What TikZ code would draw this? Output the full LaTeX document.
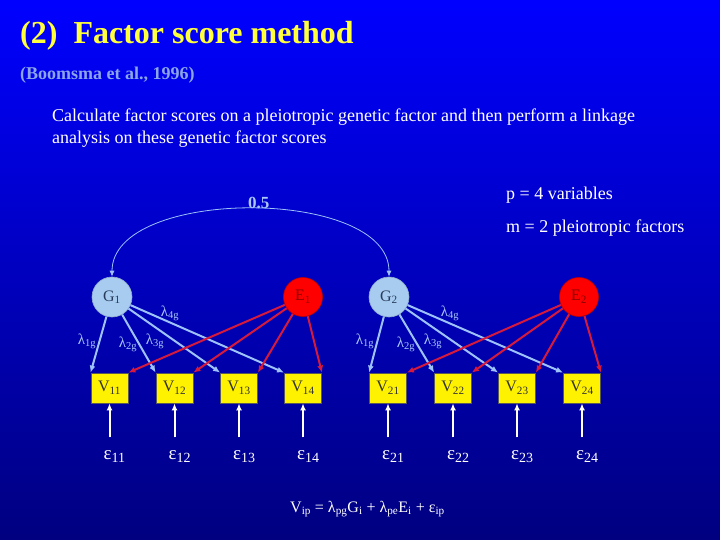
\documentclass[tikz,border=0pt]{standalone}
\usepackage{fontspec}
\setmainfont{Liberation Serif}
\usetikzlibrary{arrows.meta,calc}
\definecolor{bgtop}{RGB}{0,0,255}
\definecolor{bgmid}{RGB}{0,0,205}
\definecolor{bgbot}{RGB}{0,0,128}
\definecolor{gfill}{RGB}{168,204,240}
\definecolor{gline}{RGB}{158,194,250}
\definecolor{eline}{RGB}{215,25,60}
\definecolor{titley}{RGB}{255,255,60}
\definecolor{citec}{RGB}{140,165,230}
\definecolor{lblc}{RGB}{170,200,250}
\definecolor{gtext}{RGB}{40,60,90}
\definecolor{etext}{RGB}{130,0,0}
\newcommand\fs[1]{\fontsize{#1}{#1}\selectfont}
\begin{document}
\begin{tikzpicture}[x=1pt,y=-1pt,
  gnode/.style={circle, fill=gfill, draw=gfill!85!black, line width=0.6pt, minimum size=40pt, inner sep=0pt, text=gtext, font=\fs{16}},
  enode/.style={circle, fill=red, draw=red!75!black, line width=0.6pt, minimum size=39pt, inner sep=0pt, text=etext, font=\fs{16}},
  vbox/.style={rectangle, fill=yellow, draw=black!65, line width=0.8pt, minimum width=37pt, minimum height=30pt, inner sep=0pt, text=black!80, font=\fs{16}},
  garrow/.style={draw=gline, line width=2pt, -{Latex[length=7pt,width=6pt]}},
  earrow/.style={draw=eline, line width=2pt, -{Latex[length=7pt,width=6pt]}},
  warrow/.style={draw=white, line width=2pt, -{Latex[length=7pt,width=6pt]}},
  arcline/.style={draw=gline, line width=0.8pt, {Latex[length=6pt,width=5pt]}-{Latex[length=6pt,width=5pt]}},
  lam/.style={text=lblc, font=\fs{15}, inner sep=0pt},
  eps/.style={text=white, font=\fs{19}, inner sep=0pt, anchor=base west},
  txt/.style={anchor=base west, inner sep=0pt, text=white}
]
\useasboundingbox (0,0) rectangle (720,540);
\shade[top color=bgtop, middle color=bgmid, bottom color=bgbot] (0,0) rectangle (720,540);

% texts
\node[txt, text=titley, font=\fs{32}\bfseries] (title) at (20,44) {(2)\ \ Factor score method};
\node[txt, text=citec, font=\fs{18}\bfseries] (cite) at (20,80) {(Boomsma et al., 1996)};
\node[txt, font=\fs{18}] (body1) at (52,122) {Calculate factor scores on a pleiotropic genetic factor and then perform a linkage};
\node[txt, font=\fs{18}] (body2) at (52,144) {analysis on these genetic factor scores};
\node[txt, font=\fs{18}] (pvar) at (506,200) {p = 4 variables};
\node[txt, font=\fs{18}] (mfac) at (506,233) {m = 2 pleiotropic factors};
\node[txt, text=lblc, font=\fs{17}\bfseries] (half) at (248,208) {0.5};

% latent factors
\node[gnode] (G1) at (112,297) {G\textsubscript{1}};
\node[enode] (E1) at (303,297) {E\textsubscript{1}};
\node[gnode] (G2) at (389,297) {G\textsubscript{2}};
\node[enode] (E2) at (579,297) {E\textsubscript{2}};

% observed variables
\node[vbox] (V11) at (109.5,388) {V\textsubscript{11}};
\node[vbox] (V12) at (174.5,388) {V\textsubscript{12}};
\node[vbox] (V13) at (239,388) {V\textsubscript{13}};
\node[vbox] (V14) at (303,388) {V\textsubscript{14}};
\node[vbox] (V21) at (388,388) {V\textsubscript{21}};
\node[vbox] (V22) at (453,388) {V\textsubscript{22}};
\node[vbox] (V23) at (517,388) {V\textsubscript{23}};
\node[vbox] (V24) at (582,388) {V\textsubscript{24}};

% correlation arc
\draw[arcline] (G1.north) .. controls +(0,-90) and +(0,-90) .. (G2.north);

% loadings
\foreach \g/\e/\i in {G1/E1/1, G2/E2/2}{
  \foreach \j in {1,2,3,4}{
    \draw[garrow] (\g) -- (V\i\j.north west);
  }
  \foreach \j in {1,2,3,4}{
    \draw[earrow] (\e) -- (V\i\j.north east);
  }
}

% lambda labels
\node[lam] (l11) at (87,341) {λ\textsubscript{1g}};
\node[lam] (l21) at (128,344) {λ\textsubscript{2g}};
\node[lam] (l31) at (155,341) {λ\textsubscript{3g}};
\node[lam] (l41) at (170,313) {λ\textsubscript{4g}};
\node[lam] (l12) at (365,341) {λ\textsubscript{1g}};
\node[lam] (l22) at (406,344) {λ\textsubscript{2g}};
\node[lam] (l32) at (433,341) {λ\textsubscript{3g}};
\node[lam] (l42) at (450,313) {λ\textsubscript{4g}};

% residuals
\foreach \n in {11,12,13,14,21,22,23,24}{
  \coordinate (a\n) at ($(V\n.south)+(0,34)$);
}
\foreach \n in {11,12,13,14,21,22,23,24}{
  \node[eps] (e\n) at ($(V\n.south)+(-6,56)$) {ε\textsubscript{\fs{14}\n}};
  \draw[warrow] (a\n) -- (V\n.south);
}

% equation
\node[txt, font=\fs{16}] (eq) at (290,512) {V\textsubscript{ip} = λ\textsubscript{pg}G\textsubscript{i} + λ\textsubscript{pe}E\textsubscript{i} + ε\textsubscript{ip}};
\end{tikzpicture}
\end{document}
